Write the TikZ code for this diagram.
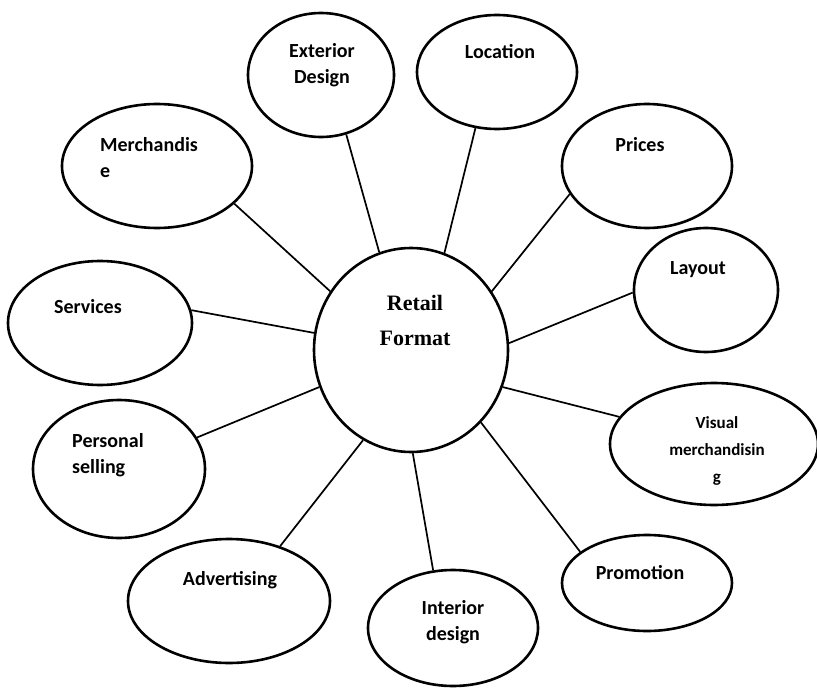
\documentclass[tikz,border=0pt]{standalone}
\usepackage{fontspec}
\setmainfont{Carlito}
\newfontfamily\timesfont{Liberation Serif}
\usetikzlibrary{shapes.geometric}
\begin{document}
\begin{tikzpicture}[x=1pt, y=-1pt,
    bubble/.style={ellipse, draw, line width=2.6pt, inner sep=0pt},
    link/.style={line width=1.7pt},
    lbl/.style={font=\fontsize{20}{26}\selectfont\bfseries, inner sep=0pt}]
    \useasboundingbox (0,0) rectangle (817,690);
    \node[bubble, minimum width=194, minimum height=204] (cen) at (411,350) {};
    \node[font=\timesfont\fontsize{22}{35}\selectfont\bfseries, align=center, inner sep=0pt] (cen-t) at (415,320) {Retail\\Format};
    \node[bubble, minimum width=146, minimum height=124] (ext) at (321,75) {};
    \node[lbl, align=center] (ext-t) at (322,65) {Exterior\\Design};
    \node[bubble, minimum width=160, minimum height=114] (loc) at (497,72) {};
    \node[lbl] (loc-t) at (500,52) {Location};
    \node[bubble, minimum width=190, minimum height=124] (mer) at (157,166) {};
    \node[lbl, align=left, anchor=west] (mer-t) at (100,158) {Merchandis\\e};
    \node[bubble, minimum width=170, minimum height=124] (pri) at (647,166) {};
    \node[lbl] (pri-t) at (640,145) {Prices};
    \node[bubble, minimum width=144, minimum height=124] (lay) at (706,290) {};
    \node[lbl] (lay-t) at (698,270) {Layout};
    \node[bubble, minimum width=184, minimum height=124] (ser) at (100,323) {};
    \node[lbl] (ser-t) at (88,307) {Services};
    \node[bubble, minimum width=208, minimum height=122] (vis) at (714,444) {};
    \node[lbl, font=\fontsize{17}{27}\selectfont\bfseries, align=center] (vis-t) at (717,451) {Visual\\merchandisin\\g};
    \node[bubble, minimum width=172, minimum height=138] (per) at (119,469) {};
    \node[lbl, align=left, anchor=west] (per-t) at (72,455) {Personal\\selling};
    \node[bubble, minimum width=170, minimum height=96] (pro) at (647,583) {};
    \node[lbl] (pro-t) at (640,573) {Promotion};
    \node[bubble, minimum width=202, minimum height=124] (adv) at (229,601) {};
    \node[lbl] (adv-t) at (230,580) {Advertising};
    \node[bubble, minimum width=170, minimum height=116] (int) at (453,628) {};
    \node[lbl, align=center] (int-t) at (453,622) {Interior\\design};
    \draw[link] (ext.-67) -- (cen.108.6);
    \draw[link] (loc.-111) -- (cen.71.7);
    \draw[link] (mer.-26) -- (cen.144.4);
    \draw[link] (pri.-160) -- (cen.36.5);
    \draw[link] (lay.182) -- (cen.4);
    \draw[link] (ser.8) -- (cen.170);
    \draw[link] (vis.164) -- (cen.-22);
    \draw[link] (per.22.3) -- (cen.-158);
    \draw[link] (pro.155.8) -- (cen.-46);
    \draw[link] (adv.47.7) -- (cen.-118);
    \draw[link] (int.109) -- (cen.-89);
\end{tikzpicture}
\end{document}
